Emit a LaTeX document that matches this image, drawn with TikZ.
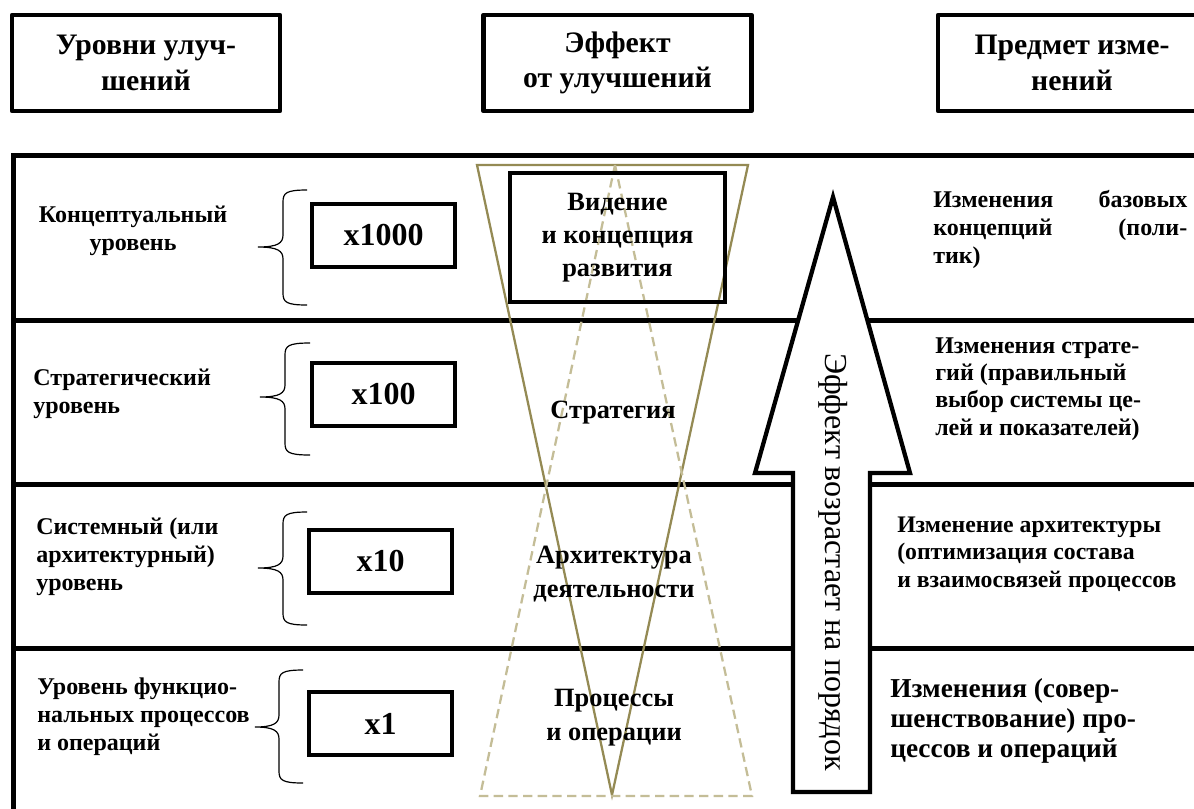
\documentclass[tikz,border=0pt]{standalone}
\usepackage{fontspec}
\setmainfont{Liberation Serif}
\definecolor{oliveA}{HTML}{948A54}
\definecolor{oliveB}{HTML}{C4BD97}
\newcommand\mybrace[6]{% xe, xv, xt, yt, ym, yb
  \draw[brc] (#1,#4) .. controls (#2+3,#4) and (#2,#4+3) .. (#2,#4+12)
    -- (#2,#5-12) .. controls (#2,#5-4) and (#2-5,#5) .. (#3,#5)
    .. controls (#2-5,#5) and (#2,#5+4) .. (#2,#5+12)
    -- (#2,#6-12) .. controls (#2,#6-3) and (#2+3,#6) .. (#1,#6);}
\begin{document}
\begin{tikzpicture}[x=0.75pt,y=-0.75pt,
  frame/.style={line width=3.75pt},
  hbox/.style={draw, line width=3.5pt, line join=round, minimum width=201pt, minimum height=72pt, align=center, font=\bfseries\fontsize{22.3}{26.5}\selectfont, inner sep=0pt},
  mbox/.style={draw, line width=3pt, minimum width=107.25pt, minimum height=47.25pt, font=\bfseries\fontsize{24}{28}\selectfont, inner sep=0pt},
  lbl/.style={font=\bfseries\fontsize{18}{21}\selectfont, inner sep=0pt, align=left},
  mid/.style={font=\bfseries\fontsize{19.8}{25}\selectfont, inner sep=0pt, align=center},
  brc/.style={line width=0.9pt},
  tri/.style={oliveA, line width=1.7pt},
  dtri/.style={oliveB, line width=1.7pt, dash pattern=on 7pt off 4pt},
]
\clip (0,0) rectangle (1194,808);
\fill[white] (0,0) rectangle (1194,808);

% headers
\node[hbox] (h1) at (146,63) {Уровни улуч-\\шений};
\node[hbox] (h2) at (617.5,63) {Эффект\\от улучшений};
\node[hbox] (h3) at (1072,63) {Предмет изме-\\нений};

% frame
\draw[frame, line join=miter] (13,815) -- (13,155) -- (1200,155);
\foreach \y in {320,484,648} \draw[frame] (13,\y) -- (1200,\y);

% triangles
\draw[tri] (477,165) -- (748,165) -- (612,795) -- cycle;
\draw[dtri] (615,165) -- (752,796) -- (480,796) -- cycle;

% big arrow
\draw[line width=3.2pt, fill=white, line join=miter] (793,792) -- (870,792) -- (870,473) -- (910,473) -- (833,197) -- (755,473) -- (793,473) -- cycle;
\node[rotate=-90, font=\fontsize{24}{28}\selectfont, inner sep=0pt] (eff) at (833,562) {Эффект возрастает на порядок};

% middle
\node[draw, line width=3.4pt, minimum width=161.25pt, minimum height=96.75pt, mid] (vid) at (617.5,237.5) {Видение\\и концепция\\развития};
\node[mid, anchor=base] (str) at (613,418) {Стратегия};
\node[mid, anchor=base] (arch) at (614,597) {Архитектура\\деятельности};
\node[mid, anchor=base] (proc) at (614,740) {Процессы\\и операции};

% multipliers
\node[mbox] (m1000) at (383.5,235) {x1000};
\node[mbox] (m100) at (383.5,394) {x100};
\node[mbox] (m10) at (380.5,561) {x10};
\node[mbox] (m1) at (380.5,723.5) {x1};

% braces
\mybrace{307}{283}{258}{190}{247}{305}
\mybrace{310}{285}{260}{343}{397}{455}
\mybrace{307}{283}{258}{512}{568}{625}
\mybrace{303}{279}{255}{670}{727}{783}

% left labels
\node[lbl, align=center, anchor=base] (l1) at (133,250) {Концептуальный\\уровень};
\node[lbl, anchor=base west] (l2) at (33,413) {Стратегический\\уровень};
\node[lbl, anchor=base west] (l3) at (36,590) {Системный (или\\архитектурный)\\уровень};
\node[lbl, anchor=base west] (l4) at (37,750) {Уровень функцио-\\нальных процессов\\и операций};

% right labels
\node[lbl, anchor=base west] (r1) at (933,263) {\hbox to 190.5pt{Изменения\hfil базовых}\\\hbox to 190.5pt{концепций\hfil (поли-}\\тик)};
\node[lbl, font=\bfseries\fontsize{18}{20.3}\selectfont, anchor=base west] (r2) at (935,435) {Изменения страте-\\гий (правильный\\выбор системы це-\\лей и показателей)};
\node[lbl, font=\bfseries\fontsize{17.8}{20.5}\selectfont, anchor=base west] (r3) at (897,587) {Изменение архитектуры\\(оптимизация состава\\и взаимосвязей процессов};
\node[lbl, font=\bfseries\fontsize{20.5}{22.5}\selectfont, anchor=base west] (r4) at (890,757) {Изменения (совер-\\шенствование) про-\\цессов и операций};
\end{tikzpicture}
\end{document}
